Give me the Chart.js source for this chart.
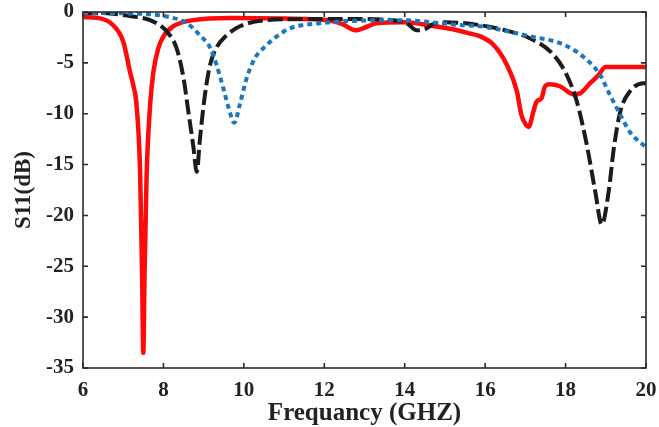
<!DOCTYPE html>
<html>
<head>
<meta charset="utf-8">
<script src="https://cdn.jsdelivr.net/npm/chart.js@4/dist/chart.umd.min.js"></script>
<style>
  html, body { margin: 0; padding: 0; background: #fff; overflow: hidden; }
  #wrap { width: 659px; height: 427px; }
</style>
</head>
<body>
<div id="wrap"><canvas id="c" width="659" height="427"></canvas></div>
<script>
// ---- data ----
const xTicks = [6, 8, 10, 12, 14, 16, 18, 20];
const yTicks = [0, -5, -10, -15, -20, -25, -30, -35];

const freqRed = [6.0, 6.4, 6.75, 7.0, 7.17, 7.25, 7.33, 7.42, 7.47, 7.5, 7.53, 7.58, 7.67, 7.75, 7.87, 8.0, 8.25, 8.74, 9.7, 11.0,
  12.1, 12.45, 12.77, 13.06, 13.3, 14.0, 14.6, 15.2, 15.6, 15.88, 16.2, 16.54, 16.79, 16.9, 17.0, 17.08, 17.2, 17.28, 17.4, 17.49,
  17.6, 17.86, 18.2, 18.36, 18.61, 18.82, 18.99, 19.5, 20.0];
const s11Red = [-0.5, -0.6, -1.3, -2.9, -5.9, -7.2, -9.1, -15.7, -26, -33.5, -26, -16.3, -9.1, -5.9, -3.6, -2.4, -1.4, -0.8, -0.6, -0.65,
  -0.8, -1.2, -1.8, -1.45, -1.1, -1.0, -1.3, -1.7, -2.1, -2.4, -3.2, -5.2, -7.8, -10.1, -11.0, -11.3, -9.8, -8.8, -8.5, -7.3,
  -7.1, -7.3, -8.1, -8.0, -7.0, -6.2, -5.4, -5.4, -5.4];

const freqBlack = [6.0, 6.42, 7.25, 7.67, 8.08, 8.33, 8.5, 8.62, 8.74, 8.83, 8.91, 9.03, 9.16, 9.32, 9.57, 9.9, 10.57, 11.5,
  12.97, 13.7, 14.05, 14.3, 14.55, 14.7, 15.0, 15.88, 16.5, 17.12, 17.7, 18.03, 18.28, 18.53, 18.74, 18.9, 19.07, 19.2, 19.36,
  19.6, 19.94, 20.0];
const s11Black = [-0.1, -0.1, -0.45, -0.8, -1.9, -3.6, -6.5, -9.8, -13.1, -15.7, -12.4, -8.2, -5.2, -3.5, -2.3, -1.4, -0.8, -0.7,
  -0.7, -0.8, -1.1, -1.8, -1.6, -1.2, -1.0, -1.3, -1.8, -2.6, -4.2, -6.2, -8.8, -13.1, -17.7, -20.9, -17.7, -13.4, -9.8,
  -7.8, -7.0, -7.0];

const freqBlue = [6.0, 7.25, 8.08, 8.58, 8.91, 9.16, 9.32, 9.49, 9.62, 9.76, 9.9, 10.07, 10.28, 10.5, 10.82, 11.15, 11.9, 13.8,
  15.45, 15.88, 17.12, 17.95, 18.53, 18.86, 19.11, 19.36, 19.6, 20.0];
const s11Blue = [-0.1, -0.15, -0.45, -1.1, -2.3, -3.5, -5.2, -7.5, -9.4, -10.9, -9.1, -6.5, -4.5, -3.5, -2.4, -1.6, -1.1, -0.8,
  -1.3, -1.4, -2.4, -3.2, -4.7, -6.2, -8.2, -10.1, -11.8, -13.3];

const xLabel = 'Frequancy (GHZ)';
const yLabel = 'S11(dB)';

function pts(xs, ys) { return xs.map((x, i) => ({ x: x, y: ys[i] })); }

const FONT = '"Liberation Serif", "Times New Roman", serif';

const boxTicks = {
  id: 'boxTicks',
  afterDraw(chart) {
    const { ctx, chartArea: a, scales } = chart;
    ctx.save();
    ctx.strokeStyle = '#2b2b2b';
    ctx.lineWidth = 1.6;
    ctx.strokeRect(a.left, a.top, a.right - a.left, a.bottom - a.top);
    const L = 5;
    ctx.beginPath();
    scales.x.ticks.forEach(t => {
      const p = scales.x.getPixelForValue(t.value);
      ctx.moveTo(p, a.bottom); ctx.lineTo(p, a.bottom - L);
      ctx.moveTo(p, a.top); ctx.lineTo(p, a.top + L);
    });
    scales.y.ticks.forEach(t => {
      const p = scales.y.getPixelForValue(t.value);
      ctx.moveTo(a.left, p); ctx.lineTo(a.left + L, p);
      ctx.moveTo(a.right, p); ctx.lineTo(a.right - L, p);
    });
    ctx.stroke();
    ctx.restore();
  }
};

new Chart(document.getElementById('c'), {
  type: 'line',
  data: {
    datasets: [
      { data: pts(freqBlue, s11Blue), borderColor: '#1b77c0', borderWidth: 4, borderDash: [5, 4],
        borderCapStyle: 'butt', pointRadius: 0, cubicInterpolationMode: 'monotone', order: 0 },
      { data: pts(freqBlack, s11Black), borderColor: '#1c1c1c', borderWidth: 4, borderDash: [15, 5],
        borderCapStyle: 'butt', pointRadius: 0, cubicInterpolationMode: 'monotone', order: 1 },
      { data: pts(freqRed, s11Red), borderColor: '#ff0a0a', borderWidth: 4.5,
        pointRadius: 0, cubicInterpolationMode: 'monotone', order: 2 }
    ]
  },
  options: {
    responsive: false,
    animation: false,
    devicePixelRatio: 1,
    layout: { padding: { top: 12, right: 13, left: 0, bottom: 0 } },
    plugins: { legend: { display: false }, tooltip: { enabled: false } },
    scales: {
      x: {
        type: 'linear', min: 6, max: 20,
        afterBuildTicks(s) { s.ticks = xTicks.map(v => ({ value: v })); },
        afterFit(s) { s.height = 59; s.paddingLeft = 0; s.paddingRight = 0; },
        grid: { display: false, drawTicks: false },
        border: { display: false },
        ticks: { color: '#222', padding: 10, maxRotation: 0, font: { family: FONT, size: 21, weight: 'bold' },
          callback: v => String(v) },
        title: { display: true, text: xLabel, color: '#222', padding: { top: 0, bottom: -2 },
          font: { family: FONT, size: 25, weight: 'bold' } }
      },
      y: {
        type: 'linear', min: -35, max: 0,
        afterBuildTicks(s) { s.ticks = yTicks.map(v => ({ value: v })); },
        afterFit(s) { s.width = 83; s.paddingTop = 0; s.paddingBottom = 0; },
        grid: { display: false, drawTicks: false },
        border: { display: false },
        ticks: { color: '#222', padding: 9, font: { family: FONT, size: 21, weight: 'bold' },
          callback: v => String(v) },
        title: { display: true, text: yLabel, color: '#222', padding: { top: 10, bottom: 0 },
          font: { family: FONT, size: 23, weight: 'bold' } }
      }
    }
  },
  plugins: [boxTicks]
});
</script>
</body>
</html>
